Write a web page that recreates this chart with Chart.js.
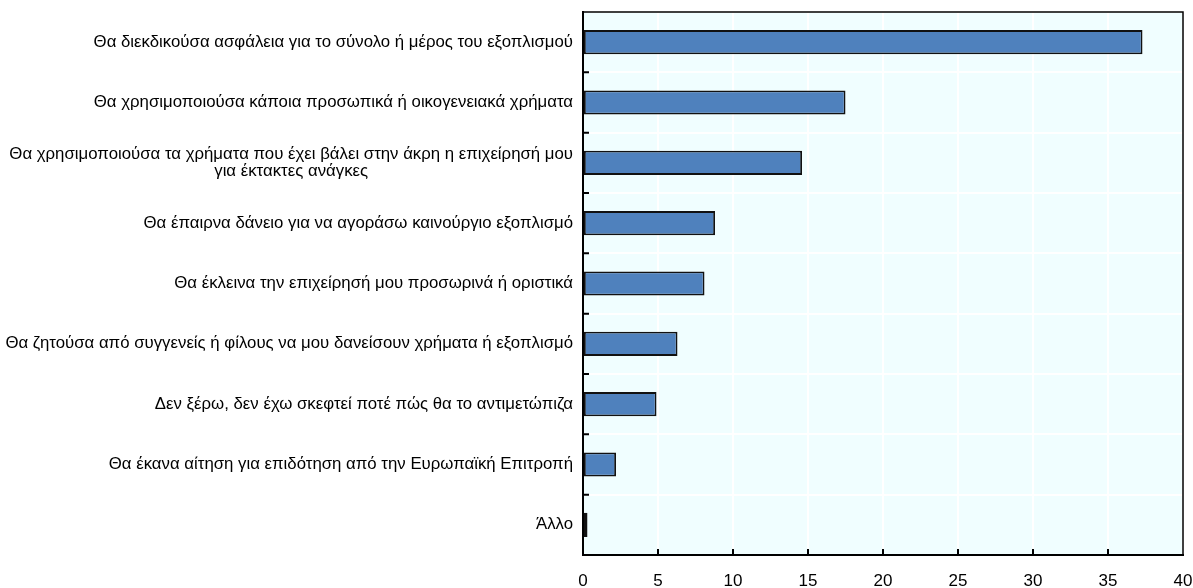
<!DOCTYPE html>
<html>
<head>
<meta charset="utf-8">
<script src="https://cdn.jsdelivr.net/npm/chart.js@4.4.0/dist/chart.umd.min.js"></script>
<style>
  html, body { margin: 0; padding: 0; background: #fff; overflow: hidden; }
  #wrap { width: 1193px; height: 588px; }
  canvas { display: block; }
</style>
</head>
<body>
<div id="wrap"><canvas id="responsesChart"></canvas></div>
<script>
// Απαντήσεις (%)
const categories = [
    'Θα διεκδικούσα ασφάλεια για το σύνολο ή μέρος του εξοπλισμού',
    'Θα χρησιμοποιούσα κάποια προσωπικά ή οικογενειακά χρήματα',
    ['Θα χρησιμοποιούσα τα χρήματα που έχει βάλει στην άκρη η επιχείρησή μου', 'για έκτακτες ανάγκες'],
    'Θα έπαιρνα δάνειο για να αγοράσω καινούργιο εξοπλισμό',
    'Θα έκλεινα την επιχείρησή μου προσωρινά ή οριστικά',
    'Θα ζητούσα από συγγενείς ή φίλους να μου δανείσουν χρήματα ή εξοπλισμό',
    'Δεν ξέρω, δεν έχω σκεφτεί ποτέ πώς θα το αντιμετώπιζα',
    'Θα έκανα αίτηση για επιδότηση από την Ευρωπαϊκή Επιτροπή',
    'Άλλο'
];
const values = [37.3, 17.5, 14.6, 8.8, 8.1, 6.3, 4.9, 2.2, 0.3];
const xMin = 0;
const xMax = 40;
const xStep = 5;

const LABEL_FONT = '16.8px "Liberation Sans", Arial, sans-serif';
const LINE_H = 17;

// φόντο περιοχής σχεδίασης, πλαίσιο, εσωτερικές υποδιαιρέσεις και ετικέτες κατηγοριών
const framePlugin = {
    id: 'frame',
    beforeDraw(chart) {
        const { ctx, chartArea: a } = chart;
        ctx.save();
        ctx.fillStyle = '#f0feff';
        ctx.fillRect(a.left, a.top, a.right - a.left, a.bottom - a.top);
        ctx.restore();
    },
    afterDraw(chart) {
        const { ctx, chartArea: a, scales } = chart;
        ctx.save();
        ctx.strokeStyle = '#000';
        ctx.lineWidth = 1.5;
        ctx.strokeRect(a.left, a.top, a.right - a.left, a.bottom - a.top);

        ctx.lineWidth = 2;
        ctx.beginPath();
        // υποδιαιρέσεις άξονα x προς τα μέσα
        scales.x.ticks.forEach(t => {
            if (t.value <= xMin || t.value >= xMax) return;
            const px = scales.x.getPixelForValue(t.value);
            ctx.moveTo(px, a.bottom);
            ctx.lineTo(px, a.bottom - 6);
        });
        // υποδιαιρέσεις στα όρια των κατηγοριών
        for (let i = 1; i < categories.length; i++) {
            const py = (scales.y.getPixelForTick(i - 1) + scales.y.getPixelForTick(i)) / 2;
            ctx.moveTo(a.left, py);
            ctx.lineTo(a.left + 6, py);
        }
        ctx.stroke();

        // ετικέτες κατηγοριών, οι γραμμές κεντραρισμένες μεταξύ τους
        ctx.font = LABEL_FONT;
        ctx.fillStyle = '#000';
        ctx.textBaseline = 'middle';
        ctx.textAlign = 'left';
        categories.forEach((lab, i) => {
            const lines = Array.isArray(lab) ? lab : [lab];
            const w = Math.max(...lines.map(l => ctx.measureText(l).width));
            const right = a.left - 10;
            const cy = scales.y.getPixelForTick(i);
            lines.forEach((l, j) => {
                const lw = ctx.measureText(l).width;
                const y = cy + (j - (lines.length - 1) / 2) * LINE_H;
                ctx.fillText(l, right - w + (w - lw) / 2, y);
            });
        });
        ctx.restore();
    }
};

new Chart(document.getElementById('responsesChart'), {
    type: 'bar',
    data: {
        labels: categories,
        datasets: [{
            data: values,
            backgroundColor: '#4f81bd',
            borderColor: '#111',
            borderWidth: 1.8,
            borderSkipped: false,
            categoryPercentage: 1,
            barPercentage: 0.4
        }]
    },
    options: {
        indexAxis: 'y',
        responsive: true,
        maintainAspectRatio: false,
        animation: false,
        layout: { padding: { top: 12, right: 0, left: 0, bottom: 0 } },
        plugins: { legend: { display: false }, tooltip: { enabled: false } },
        scales: {
            x: {
                min: xMin,
                max: xMax,
                ticks: {
                    stepSize: xStep,
                    color: '#000',
                    padding: 16,
                    maxRotation: 0,
                    font: { family: '"Liberation Sans", Arial, sans-serif', size: 17 }
                },
                grid: { color: '#ffffff', lineWidth: 2, drawTicks: false },
                border: { color: '#000', width: 2 },
                afterFit(s) {
                    s.height = 33;
                    s.paddingLeft = 0;
                    s.paddingRight = 10;
                }
            },
            y: {
                ticks: { display: false },
                grid: { color: '#ffffff', lineWidth: 2, drawTicks: false, offset: true },
                border: { color: '#000', width: 2 },
                afterFit(s) { s.width = 583; }
            }
        }
    },
    plugins: [framePlugin]
});
</script>
</body>
</html>
